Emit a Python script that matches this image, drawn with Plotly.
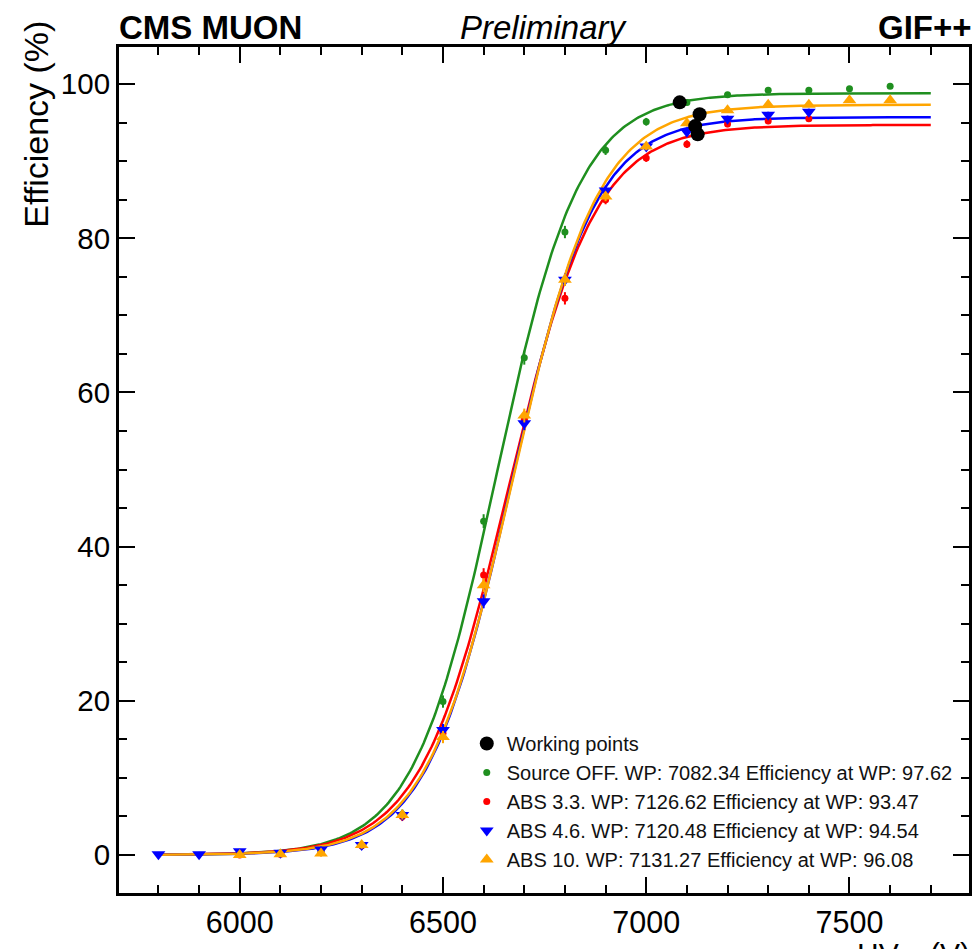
import numpy as np
import plotly.graph_objects as go

# ---------------- data ----------------
hv_green = [6000, 6100, 6200, 6300, 6400, 6500, 6600, 6700, 6800, 6900, 7000, 7100, 7200, 7300, 7400, 7500, 7600]
eff_green = [0.1, 0.2, 0.5, 1.3, 5.3, 19.9, 43.3, 64.5, 80.8, 91.4, 95.1, 97.6, 98.6, 99.2, 99.2, 99.4, 99.7]
err_green = [0.3, 0.3, 0.4, 0.5, 0.6, 0.8, 0.9, 0.9, 0.8, 0.6, 0.5, 0.4, 0.3, 0.3, 0.3, 0.3, 0.3]

hv_red = [6000, 6100, 6200, 6300, 6400, 6500, 6600, 6700, 6800, 6900, 7000, 7100, 7200, 7300, 7400]
eff_red = [0.0, 0.1, 0.3, 1.2, 5.0, 15.8, 36.3, 56.5, 72.2, 85.0, 90.4, 92.2, 94.8, 95.2, 95.5]
err_red = [0.3, 0.3, 0.4, 0.5, 0.6, 0.8, 0.9, 0.9, 0.8, 0.6, 0.5, 0.5, 0.4, 0.4, 0.4]

hv_blue = [5800, 5900, 6000, 6100, 6200, 6300, 6400, 6500, 6600, 6700, 6800, 6900, 7000, 7100, 7200, 7300, 7400]
eff_blue = [0.1, 0.1, 0.5, 0.3, 0.7, 1.3, 5.2, 16.2, 32.9, 56.0, 74.6, 86.2, 91.9, 93.8, 95.5, 96.0, 96.4]
err_blue = [0.3, 0.3, 0.3, 0.3, 0.4, 0.5, 0.6, 0.8, 0.9, 0.9, 0.8, 0.6, 0.5, 0.5, 0.4, 0.4, 0.4]

hv_orange = [6000, 6100, 6200, 6300, 6400, 6500, 6600, 6700, 6800, 6900, 7000, 7100, 7200, 7300, 7400, 7500, 7600]
eff_orange = [0.0, 0.1, 0.2, 1.3, 5.2, 15.3, 35.0, 57.0, 74.6, 85.4, 91.9, 94.9, 96.6, 97.3, 97.3, 97.9, 97.9]
err_orange = [0.3, 0.3, 0.4, 0.5, 0.6, 0.8, 0.9, 0.9, 0.8, 0.6, 0.5, 0.4, 0.3, 0.3, 0.3, 0.3, 0.3]

wp_hv = [7082.34, 7126.62, 7120.48, 7131.27]
wp_eff = [97.62, 93.47, 94.54, 96.08]

# sigmoid fit parameters: Emax / (1 + exp(-slope * (HV - HV50)))
fit_emax = [98.80, 94.69, 95.70, 97.30]
fit_slope = [0.0098, 0.0093, 0.0097, 0.0095]
fit_hv50 = [6632.0, 6660.0, 6667.0, 6671.0]
fit_range = [5800, 7700]

series_names = [
    "Source OFF. WP: 7082.34 Efficiency at WP: 97.62",
    "ABS 3.3. WP: 7126.62 Efficiency at WP: 93.47",
    "ABS 4.6. WP: 7120.48 Efficiency at WP: 94.54",
    "ABS 10. WP: 7131.27 Efficiency at WP: 96.08",
]
series_colors = ["#1f8f1f", "#ff0000", "#0000ff", "#ffa500"]
series_symbols = ["circle", "circle", "triangle-down", "triangle-up"]
series_sizes = [7, 7, 12, 12]

hv_sets = [hv_green, hv_red, hv_blue, hv_orange]
eff_sets = [eff_green, eff_red, eff_blue, eff_orange]
err_sets = [err_green, err_red, err_blue, err_orange]

FONT = "Liberation Sans, Arial, Helvetica, sans-serif"

fig = go.Figure()

# fit curves
hv_fine = np.linspace(fit_range[0], fit_range[1], 400)
for i in range(4):
    y = fit_emax[i] / (1.0 + np.exp(-fit_slope[i] * (hv_fine - fit_hv50[i])))
    fig.add_trace(go.Scatter(x=hv_fine, y=y, mode="lines",
                             line=dict(color=series_colors[i], width=2.5),
                             showlegend=False, hoverinfo="skip"))

# data points
for i in range(4):
    fig.add_trace(go.Scatter(
        x=hv_sets[i], y=eff_sets[i], mode="markers", name=series_names[i],
        marker=dict(color=series_colors[i], symbol=series_symbols[i], size=series_sizes[i]),
        error_y=dict(type="data", array=err_sets[i], color=series_colors[i], thickness=2, width=0),
        legendrank=10 + i))

# working points
fig.add_trace(go.Scatter(x=wp_hv, y=wp_eff, mode="markers", name="Working points",
                         marker=dict(color="black", size=14, symbol="circle"),
                         legendrank=1))

axis_common = dict(
    showgrid=False, zeroline=False, showline=True, linecolor="black", linewidth=3,
    ticks="inside", ticklen=16, tickwidth=1.5, tickcolor="black", mirror="ticks",
)

fig.update_xaxes(range=[5703, 7794], dtick=500, tick0=0,
                 tickfont=dict(family=FONT, size=30.5, color="black"),
                 minor=dict(dtick=100, ticks="inside", ticklen=8, tickwidth=1.5, tickcolor="black"),
                 **axis_common)
fig.update_yaxes(range=[-4.93, 104.8], dtick=20, tick0=0,
                 tickfont=dict(family=FONT, size=29.5, color="black"),
                 minor=dict(dtick=5, ticks="inside", ticklen=8, tickwidth=1.5, tickcolor="black"),
                 **axis_common)

annotations = [
    dict(text="<b>CMS MUON</b>", x=0, y=1.0235, xref="paper", yref="paper",
         xanchor="left", yanchor="middle", showarrow=False, xshift=-2,
         font=dict(family=FONT, size=33, color="black")),
    dict(text="<i>Preliminary</i>", x=(545 - 119) / 853, y=1.0235, xref="paper", yref="paper",
         xanchor="center", yanchor="middle", showarrow=False,
         font=dict(family=FONT, size=33, color="black")),
    dict(text="<b>GIF++</b>", x=1, y=1.0235, xref="paper", yref="paper",
         xanchor="right", yanchor="middle", showarrow=False, xshift=5,
         font=dict(family=FONT, size=33, color="black")),
    dict(text="Efficiency (%)", textangle=-90, x=(36 - 119) / 853, y=1 + (47 - 19) / 846,
         xref="paper", yref="paper", xanchor="center", yanchor="top", showarrow=False,
         font=dict(family=FONT, size=34, color="black")),
    dict(text="HV<sub>eff</sub> (V)", x=(858 - 119) / 853, y=-(935 - 893) / 846,
         xref="paper", yref="paper", xanchor="left", yanchor="top", showarrow=False,
         font=dict(family=FONT, size=30, color="black")),
]

fig.update_layout(
    width=972, height=949,
    margin=dict(l=119, r=0, t=47, b=56),
    paper_bgcolor="white", plot_bgcolor="white",
    annotations=annotations,
    legend=dict(x=(468 - 119) / 853, y=(893 - 724) / 846, xanchor="left", yanchor="top",
                bgcolor="rgba(0,0,0,0)", font=dict(family=FONT, size=20, color="#111"),
                traceorder="normal", tracegroupgap=0),
    showlegend=True,
)

fig.write_html("out.html")
